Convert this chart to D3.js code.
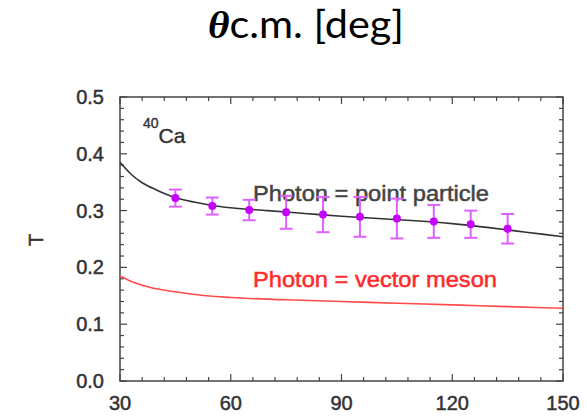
<!DOCTYPE html>
<html><head><meta charset="utf-8">
<script src="https://cdn.jsdelivr.net/npm/d3@7"></script>
<style>body{margin:0;background:#fff}svg{display:block}</style>
</head><body>
<svg id="c" width="587" height="416"></svg>
<script>
// Data
const angles = [45, 55, 65, 75, 85, 95, 105, 115, 125, 135];
const tValues = [0.322, 0.308, 0.301, 0.297, 0.293, 0.289, 0.286, 0.281, 0.276, 0.268];
const tErrors = [0.015, 0.015, 0.018, 0.029, 0.031, 0.035, 0.035, 0.029, 0.024, 0.026];
const pointCurveX = [30, 33, 36, 40, 45, 50, 55, 60, 70, 80, 90, 100, 110, 120, 130, 140, 150];
const pointCurveY = [0.385, 0.364, 0.349, 0.336, 0.323, 0.315, 0.309, 0.305, 0.300, 0.295, 0.290, 0.286, 0.282, 0.277, 0.270, 0.262, 0.254];
const mesonCurveX = [30, 34, 38, 45, 52, 60, 75, 90, 105, 120, 135, 150];
const mesonCurveY = [0.185, 0.173, 0.165, 0.157, 0.151, 0.147, 0.143, 0.140, 0.137, 0.134, 0.131, 0.128];
const xTickLabels = [30, 60, 90, 120, 150];
const yTickLabels = [0.0, 0.1, 0.2, 0.3, 0.4, 0.5];

const svg = d3.select('#c');
const x = d3.scaleLinear().domain([30, 150]).range([120, 563]);
const y = d3.scaleLinear().domain([0, 0.5]).range([381, 97]);
const axisColor = '#444';
const txt = '#333';
const font = 'Liberation Sans, Arial, sans-serif';

// title
const title = svg.append('text').attr('x', 208).attr('y', 38)
  .attr('font-size', 38).attr('fill', '#000')
  .attr('textLength', 196).attr('lengthAdjust', 'spacingAndGlyphs');
title.append('tspan').attr('font-family', 'Liberation Serif, serif')
  .attr('font-weight', 'bold').attr('font-style', 'italic').text('θ');
title.append('tspan').attr('font-family', 'Lato, Open Sans, sans-serif').text('c.m. [deg]');

// frame
svg.append('rect').attr('x', x(30)).attr('y', y(0.5)).attr('width', x(150) - x(30)).attr('height', y(0) - y(0.5))
  .attr('fill', 'none').attr('stroke', axisColor).attr('stroke-width', 1.5);

// ticks
const xMinor = d3.range(30, 150.1, 6);
const yMinor = d3.range(0, 0.501, 0.02);
const g = svg.append('g').attr('stroke', axisColor).attr('stroke-width', 1.2);
xMinor.forEach(v => {
  const major = xTickLabels.includes(Math.round(v));
  const len = major ? 7 : 4;
  g.append('line').attr('x1', x(v)).attr('x2', x(v)).attr('y1', y(0)).attr('y2', y(0) - len);
  g.append('line').attr('x1', x(v)).attr('x2', x(v)).attr('y1', y(0.5)).attr('y2', y(0.5) + len);
});
yMinor.forEach(v => {
  const major = Math.abs(v * 10 - Math.round(v * 10)) < 1e-6;
  const len = major ? 7 : 4;
  g.append('line').attr('y1', y(v)).attr('y2', y(v)).attr('x1', x(30)).attr('x2', x(30) + len);
  g.append('line').attr('y1', y(v)).attr('y2', y(v)).attr('x1', x(150)).attr('x2', x(150) - len);
});

// tick labels
svg.selectAll('.xl').data(xTickLabels).enter().append('text')
  .attr('x', d => x(d)).attr('y', 410).attr('text-anchor', 'middle')
  .attr('font-family', font).attr('font-size', 20).attr('fill', txt)
  .attr('stroke', txt).attr('stroke-width', 0.5).text(d => d);
svg.selectAll('.yl').data(yTickLabels).enter().append('text')
  .attr('x', 104).attr('y', d => y(d) + 7).attr('text-anchor', 'end')
  .attr('font-family', font).attr('font-size', 20).attr('fill', txt)
  .attr('stroke', txt).attr('stroke-width', 0.5).text(d => d.toFixed(1));

// y label
svg.append('text').attr('transform', 'translate(43,240) rotate(-90)').attr('text-anchor', 'middle')
  .attr('font-family', font).attr('font-size', 20).attr('fill', txt)
  .attr('stroke', txt).attr('stroke-width', 0.5).text('T');

// 40Ca
const ca = svg.append('text').attr('x', 143).attr('y', 143).attr('font-family', font).attr('fill', txt)
  .attr('stroke', txt).attr('stroke-width', 0.4);
ca.append('tspan').attr('font-size', 14).attr('dy', -15).text('40');
ca.append('tspan').attr('font-size', 21).attr('dy', 15).text('Ca');

// curves
const line = d3.line().x(d => x(d[0])).y(d => y(d[1])).curve(d3.curveMonotoneX);
svg.append('path').datum(d3.zip(mesonCurveX, mesonCurveY)).attr('d', line)
  .attr('fill', 'none').attr('stroke', '#ff4a4a').attr('stroke-width', 1.6);
svg.append('path').datum(d3.zip(pointCurveX, pointCurveY)).attr('d', line)
  .attr('fill', 'none').attr('stroke', '#333').attr('stroke-width', 1.6);

// labels
svg.append('text').attr('x', 253).attr('y', 201).attr('font-family', font).attr('font-size', 22)
  .attr('textLength', 236).attr('lengthAdjust', 'spacingAndGlyphs').attr('fill', '#444')
  .attr('stroke', '#444').attr('stroke-width', 0.5).text('Photon = point particle');
svg.append('text').attr('x', 253).attr('y', 287).attr('font-family', font).attr('font-size', 22)
  .attr('textLength', 244).attr('lengthAdjust', 'spacingAndGlyphs').attr('fill', '#ff2a2a')
  .attr('stroke', '#ff2a2a').attr('stroke-width', 0.5).text('Photon = vector meson');

// error bars and points
const pts = angles.map((a, i) => ({a, t: tValues[i], e: tErrors[i]}));
const eb = svg.append('g').attr('stroke', '#e060ff').attr('stroke-width', 2);
pts.forEach(p => {
  eb.append('line').attr('x1', x(p.a)).attr('x2', x(p.a)).attr('y1', y(p.t - p.e)).attr('y2', y(p.t + p.e));
  [p.t - p.e, p.t + p.e].forEach(v => eb.append('line').attr('x1', x(p.a) - 6.5).attr('x2', x(p.a) + 6.5).attr('y1', y(v)).attr('y2', y(v)));
});
svg.selectAll('.pt').data(pts).enter().append('circle')
  .attr('cx', d => x(d.a)).attr('cy', d => y(d.t)).attr('r', 4).attr('fill', '#c400ff');
</script>
</body></html>
